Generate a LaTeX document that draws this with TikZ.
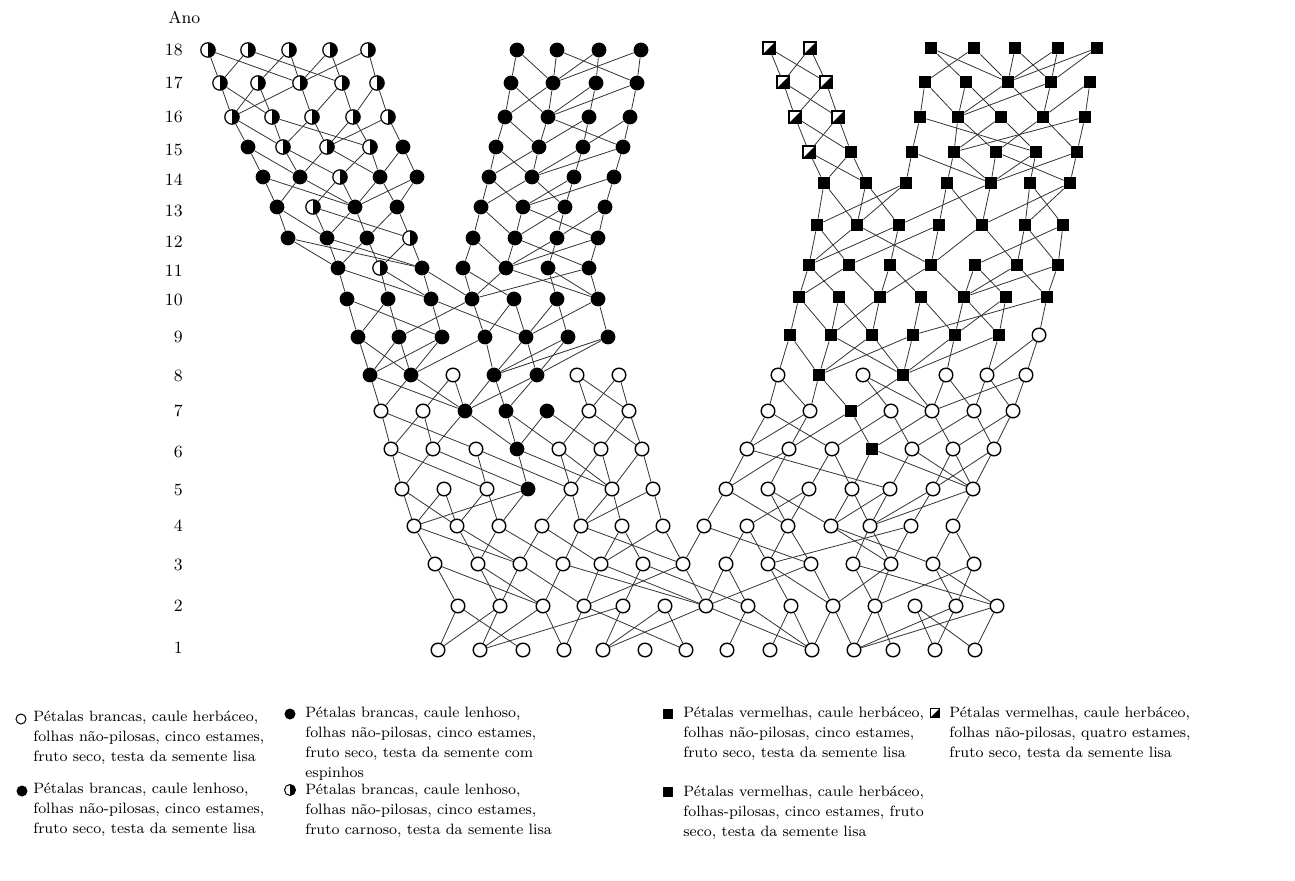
\documentclass[tikz,border=0pt]{standalone}
\usetikzlibrary{calc}
\newcommand\linkrows[3]{\foreach \u/\a/\b in {#3} {\draw[edge] (#1-\u) -- (#2-\a) (#1-\u) -- (#2-\b);}}
\newcommand\noderow[3]{\foreach \x/\t [count=\i] in {#3} {\node[\t] (#1-\i) at (\x,#2) {};}}
\begin{document}
\begin{tikzpicture}[x=0.5pt,y=-0.5pt,
  wc/.style={circle,draw,line width=0.7pt,fill=white,minimum size=6.8pt,inner sep=0pt},
  bc/.style={circle,fill=black,minimum size=7.4pt,inner sep=0pt},
  hc/.style={circle,draw,line width=0.6pt,fill=white,minimum size=7.2pt,inner sep=0pt,
     path picture={\fill[black] (path picture bounding box.north) rectangle (path picture bounding box.south east);}},
  sq/.style={rectangle,fill=black,minimum size=6pt,inner sep=0pt},
  hq/.style={rectangle,draw,line width=0.6pt,fill=white,minimum size=6pt,inner sep=0pt,
     path picture={\fill[black] (path picture bounding box.north east) -- (path picture bounding box.south east) -- (path picture bounding box.south west) -- cycle;}},
  edge/.style={line width=0.4pt,black!80},
  yr/.style={anchor=east,inner sep=0pt,font=\fontsize{8.6}{10}\selectfont},
  leg/.style={anchor=north west,inner sep=0pt,align=left,font=\fontsize{7.5}{10}\selectfont}]
\useasboundingbox (0,0) rectangle (1295,881);
% year labels
\node[anchor=west,inner sep=0pt,font=\fontsize{8.6}{10}\selectfont] (ano) at (168,17) {Ano};
\foreach \n/\y in {18/50,17/83,16/117,15/150,14/180,13/211,12/242,11/271,10/300,9/337,8/376,7/411,6/452,5/490,4/526,3/565,2/606,1/648}
  {\node[yr] (y\n) at (183,\y) {\n};}
% shared rows
\noderow{n1}{650}{438/wc,480/wc,523/wc,564/wc,603/wc,645/wc,686/wc,727/wc,770/wc,812/wc,854/wc,893/wc,935/wc,975/wc}
\noderow{n2}{606}{458/wc,500/wc,543/wc,584/wc,623/wc,665/wc,706/wc,748/wc,791/wc,833/wc,875/wc,915/wc,956/wc,997/wc}
\noderow{n3}{564}{435/wc,478/wc,520/wc,563/wc,601/wc,643/wc,683/wc,726/wc,768/wc,811/wc,853/wc,891/wc,933/wc,974/wc}
\noderow{n4}{526}{414/wc,457/wc,499/wc,542/wc,581/wc,622/wc,663/wc,704/wc,747/wc,788/wc,831/wc,870/wc,911/wc,953/wc}
\noderow{n5}{489}{402/wc,444/wc,487/wc,528/bc,571/wc,612/wc,653/wc,726/wc,768/wc,809/wc,852/wc,890/wc,933/wc,973/wc}
\noderow{n6}{449}{391/wc,433/wc,476/wc,517/bc,559/wc,601/wc,642/wc,747/wc,789/wc,832/wc,872/sq,912/wc,953/wc,994/wc}
\noderow{n7}{411}{381/wc,423/wc,465/bc,506/bc,547/bc,589/wc,629/wc,768/wc,810/wc,851/sq,891/wc,932/wc,974/wc,1013/wc}
\noderow{n8}{375}{370/bc,411/bc,453/wc,494/bc,537/bc,577/wc,619/wc,778/wc,819/sq,863/wc,903/sq,946/wc,987/wc,1026/wc}
% left upper rows
\noderow{L9}{337}{358/bc,399/bc,442/bc,485/bc,526/bc,568/bc,608/bc}
\noderow{L10}{299}{347/bc,388/bc,431/bc,472/bc,514/bc,557/bc,598/bc}
\noderow{L11}{268}{338/bc,380/hc,422/bc,463/bc,506/bc,548/bc,589/bc}
\noderow{L12}{238}{288/bc,327/bc,367/bc,410/hc,473/bc,515/bc,557/bc,598/bc}
\noderow{L13}{207}{277/bc,313/hc,355/bc,397/bc,481/bc,523/bc,565/bc,605/bc}
\noderow{L14}{177}{263/bc,300/bc,340/hc,380/bc,417/bc,489/bc,532/bc,574/bc,614/bc}
\noderow{L15}{147}{248/bc,283/hc,327/hc,370/hc,403/bc,496/bc,539/bc,583/bc,623/bc}
\noderow{L16}{117}{232/hc,272/hc,312/hc,353/hc,388/hc,505/bc,548/bc,589/bc,630/bc}
\noderow{L17}{83}{220/hc,258/hc,300/hc,342/hc,377/hc,511/bc,553/bc,596/bc,637/bc}
\noderow{L18}{50}{208/hc,248/hc,289/hc,330/hc,368/hc,517/bc,557/bc,599/bc,641/bc}
% right upper rows
\noderow{R9}{335}{790/sq,831/sq,872/sq,913/sq,955/sq,999/sq,1039/wc}
\noderow{R10}{297}{799/sq,839/sq,880/sq,921/sq,964/sq,1006/sq,1047/sq}
\noderow{R11}{265}{809/sq,849/sq,890/sq,931/sq,975/sq,1017/sq,1058/sq}
\noderow{R12}{225}{817/sq,857/sq,899/sq,939/sq,982/sq,1025/sq,1063/sq}
\noderow{R13}{183}{824/sq,866/sq,906/sq,947/sq,991/sq,1030/sq,1070/sq}
\noderow{R14}{152}{809/hq,851/sq,912/sq,954/sq,996/sq,1036/sq,1077/sq}
\noderow{R15}{117}{795/hq,838/hq,920/sq,958/sq,1001/sq,1043/sq,1085/sq}
\noderow{R16}{82}{783/hq,826/hq,925/sq,966/sq,1008/sq,1051/sq,1090/sq}
\noderow{R17}{48}{769/hq,810/hq,931/sq,974/sq,1015/sq,1058/sq,1097/sq}
% connectors
\linkrows{n2}{n1}{1/1/3,2/1/2,3/2/4,4/4/7,5/2/5,6/5/7,7/5/10,8/8/10,9/9/10,10/10/11,11/11/12,12/13/14,13/11/13,14/11/14}
\linkrows{n3}{n2}{1/1/3,2/2/3,3/2/4,4/3/7,5/4/7,6/5/8,7/4/7,8/7/8,9/9/10,10/7/10,11/11/14,12/10/11,13/13/14,14/11/13}
\linkrows{n4}{n3}{1/1/3,2/2/3,3/2/4,4/3/5,5/4/7,6/5/6,7/5/7,8/7/10,9/8/9,10/9/10,11/12/13,12/11/12,13/9/12,14/13/14}
\linkrows{n5}{n4}{1/1/2,2/1/2,3/2/3,4/1/3,5/4/5,6/5/6,7/5/7,8/8/10,9/10/11,10/9/10,11/11/12,12/11/12,13/12/13,14/12/14}
\linkrows{n6}{n5}{1/1/3,2/1/4,3/3/5,4/4/6,5/5/6,6/5/6,7/6/7,8/8/12,9/8/9,10/10/11,11/11/14,12/12/14,13/13/14,14/13/14}
\linkrows{n7}{n6}{1/1/3,2/1/2,3/2/4,4/4/5,5/4/6,6/5/7,7/6/7,8/8/10,9/8/9,10/11/9,11/10/12,12/11/13,13/12/14,14/13/14}
\linkrows{n8}{n7}{1/1/3,2/1/3,3/2/3,4/3/4,5/3/4,6/6/7,7/6/7,8/8/9,9/9/10,10/11/12,11/10/12,12/12/13,13/13/14,14/12/14}
\linkrows{L9}{n8}{1/1/2,2/1/2,3/1/2,4/2/4,5/4/5,6/4/5,7/4/5}
\linkrows{R9}{n8}{1/8/9,2/9/11,3/9/11,4/9/11,5/11/12,6/11/13,7/13/14}
\linkrows{L10}{L9}{1/1/3,2/1/2,3/3/5,4/2/4,5/4/5,6/5/6,7/5/7}
\linkrows{L11}{L10}{1/1/3,2/2/3,3/3/4,4/4/5,5/4/7,6/6/7,7/4/7}
\linkrows{L12}{L11}{1/1/3,2/1/3,3/1/2,4/2/3,5/4/5,6/5/7,7/5/6,8/5/7}
\linkrows{L13}{L12}{1/1/2,2/2/4,3/2/3,4/3/4,5/5/6,6/6/8,7/6/7,8/7/8}
\linkrows{L14}{L13}{1/1/3,2/1/3,3/2/3,4/3/4,5/3/4,6/5/6,7/5/7,8/6/7,9/6/8}
\linkrows{L15}{L14}{1/1/2,2/2/3,3/2/4,4/3/4,5/4/5,6/6/7,7/6/7,8/7/8,9/7/9}
\linkrows{L16}{L15}{1/1/2,2/2/4,3/2/3,4/3/4,5/3/5,6/6/7,7/7/9,8/7/8,9/8/9}
\linkrows{L17}{L16}{1/1/2,2/1/2,3/1/3,4/3/4,5/4/5,6/6/7,7/6/7,8/7/8,9/7/9}
\linkrows{L18}{L17}{1/1/3,2/1/4,3/2/3,4/3/4,5/3/5,6/6/7,7/7/9,8/7/8,9/7/9}
\linkrows{R10}{R9}{1/1/2,2/2/3,3/2/3,4/4/5,5/5/6,6/5/6,7/4/7}
\linkrows{R11}{R10}{1/1/2,2/1/3,3/3/4,4/3/5,5/5/6,6/5/7,7/5/7}
\linkrows{R12}{R11}{1/1/2,2/1/4,3/1/3,4/2/4,5/4/6,6/6/7,7/5/7}
\linkrows{R13}{R12}{1/1/2,2/2/3,3/1/2,4/4/5,5/3/5,6/6/7,7/5/6}
\linkrows{R14}{R13}{1/1/2,2/1/2,3/3/5,4/4/5,5/5/7,6/5/6,7/5/7}
\linkrows{R15}{R14}{1/1/2,2/1/2,3/3/6,4/4/5,5/4/6,6/5/7,7/4/7}
\linkrows{R16}{R15}{1/1/2,2/1/2,3/3/4,4/4/5,5/4/6,6/4/6,7/6/7}
\linkrows{R17}{R16}{1/1/2,2/1/2,3/4/5,4/3/5,5/5/6,6/5/6,7/5/6}
% legend
\node[circle,draw,line width=0.5pt,minimum size=5pt,inner sep=0pt] (k1) at (21,719) {};
\node[leg] (t1) at (33,711) {Pétalas brancas, caule herbáceo,\\folhas não-pilosas, cinco estames,\\fruto seco, testa da semente lisa};
\node[circle,fill=black,minimum size=5.5pt,inner sep=0pt] (k2) at (22,791) {};
\node[leg] (t2) at (33,783) {Pétalas brancas, caule lenhoso,\\folhas não-pilosas, cinco estames,\\fruto seco, testa da semente lisa};
\node[circle,fill=black,minimum size=5.5pt,inner sep=0pt] (k3) at (290,714) {};
\node[leg] (t3) at (305,707) {Pétalas brancas, caule lenhoso,\\folhas não-pilosas, cinco estames,\\fruto seco, testa da semente com\\espinhos};
\node[hc,minimum size=5.5pt,line width=0.5pt] (k4) at (290,790) {};
\node[leg] (t4) at (305,784) {Pétalas brancas, caule lenhoso,\\folhas não-pilosas, cinco estames,\\fruto carnoso, testa da semente lisa};
\node[sq,minimum size=4.6pt] (k5) at (668,714) {};
\node[leg] (t5) at (683,707) {Pétalas vermelhas, caule herbáceo,\\folhas não-pilosas, cinco estames,\\fruto seco, testa da semente lisa};
\node[sq,minimum size=4.6pt] (k6) at (668,792) {};
\node[leg] (t6) at (683,786) {Pétalas vermelhas, caule herbáceo,\\folhas-pilosas, cinco estames, fruto\\seco, testa da semente lisa};
\node[hq,minimum size=4.8pt,line width=0.5pt] (k7) at (935,713) {};
\node[leg] (t7) at (949,707) {Pétalas vermelhas, caule herbáceo,\\folhas não-pilosas, quatro estames,\\fruto seco, testa da semente lisa};
\end{tikzpicture}
\end{document}
